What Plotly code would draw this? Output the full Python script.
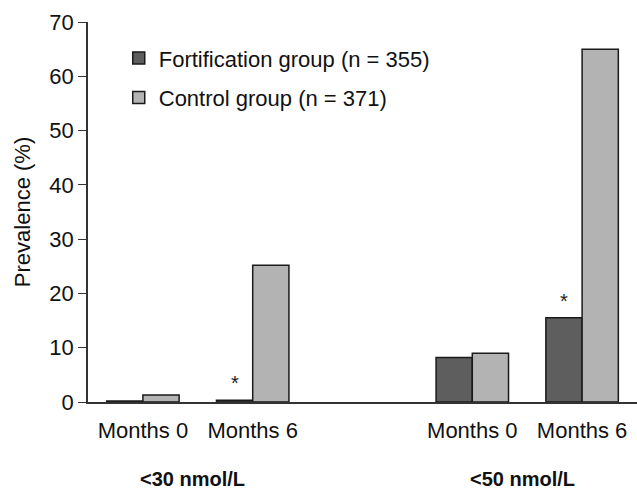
import plotly.graph_objects as go

positions = [0, 1, 3, 4]
tick_labels = ["Months 0", "Months 6", "Months 0", "Months 6"]
fortification = [0.2, 0.3, 8.2, 15.5]
control = [1.3, 25.2, 9.0, 65.0]
group_labels = ["<30 nmol/L", "<50 nmol/L"]
group_centers = [0.5, 3.5]
star_index = [1, 3]

BW = 0.33
FONT = "Liberation Sans, Arial, sans-serif"

fig = go.Figure()
fig.add_trace(go.Bar(x=positions, y=fortification, width=BW, offset=-BW,
                     name="Fortification group (n = 355)", legendgroup="a",
                     marker=dict(color="#5e5e5e", line=dict(color="#1a1a1a", width=1.5))))
fig.add_trace(go.Bar(x=positions, y=control, width=BW, offset=0,
                     name="Control group (n = 371)", legendgroup="b",
                     marker=dict(color="#b3b3b3", line=dict(color="#1a1a1a", width=1.5))))

annotations = []
for i in star_index:
    annotations.append(dict(x=positions[i] - BW / 2, y=fortification[i], xref="x", yref="y",
                            text="*", showarrow=False, yanchor="bottom", yshift=4,
                            font=dict(size=20, color="#222", family=FONT)))
for lab, c in zip(group_labels, group_centers):
    annotations.append(dict(x=c, y=0, xref="x", yref="paper", text="<b>" + lab.replace("<", "&lt;") + "</b>",
                            showarrow=False, yanchor="middle", yshift=-77, xshift=-5,
                            borderpad=0,
                            font=dict(size=20, color="#111", family=FONT)))

fig.update_layout(
    width=637, height=490,
    margin=dict(l=88, r=0, t=22, b=88),
    paper_bgcolor="white", plot_bgcolor="white",
    barmode="overlay",
    font=dict(family=FONT, color="#111", size=22),
    showlegend=True,
    legend=dict(x=0.056, y=0.96, xanchor="left", yanchor="top", bgcolor="rgba(0,0,0,0)",
                font=dict(size=22, family=FONT), tracegroupgap=8, traceorder="grouped",
                itemwidth=30),
    annotations=annotations,
    xaxis=dict(range=[-0.5, 4.5], tickmode="array", tickvals=[p for p in positions],
               ticktext=tick_labels, ticks="", showline=True, linecolor="#333", linewidth=1.5,
               showgrid=False, zeroline=False, tickfont=dict(size=22), ticklabelstandoff=8,
               automargin=False, fixedrange=True),
    yaxis=dict(range=[0, 70], tickvals=list(range(0, 71, 10)), ticks="outside", ticklen=8,
               tickcolor="#333", showline=True, linecolor="#333", linewidth=1.5,
               showgrid=False, zeroline=False, tickfont=dict(size=22), automargin=False,
               title=dict(text="Prevalence (%)", font=dict(size=22), standoff=13)),
)
fig.write_html("out.html", config={"displayModeBar": False},
               post_script="document.body.style.margin='0';")
